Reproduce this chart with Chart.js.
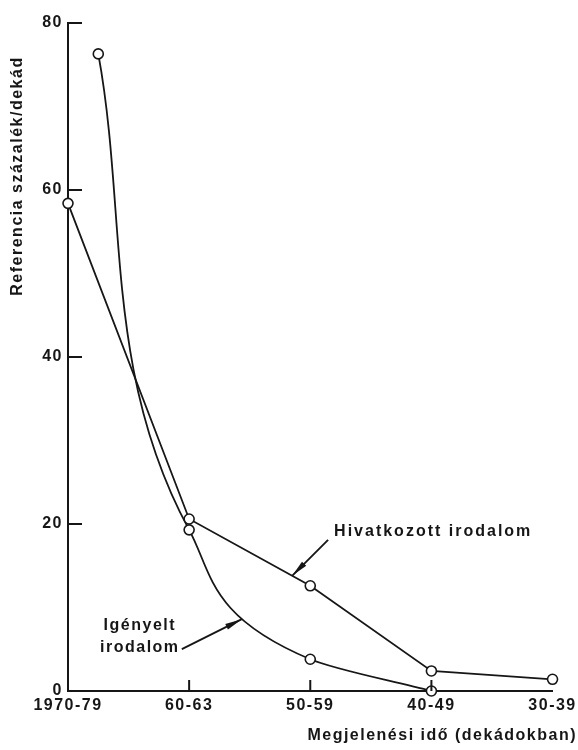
<!DOCTYPE html>
<html>
<head>
<meta charset="utf-8">
<script src="https://cdn.jsdelivr.net/npm/chart.js@4.4.1/dist/chart.umd.min.js"></script>
<style>
    body { margin: 0; background: #fff; }
    #wrap { width: 578px; height: 750px; }
</style>
</head>
<body>
<div id="wrap"><canvas id="myChart"></canvas></div>
<script>
// decades on the x axis (newest first, like the book)
const decades = ['1970-79', '60-63', '50-59', '40-49', '30-39'];
const y_ticks = [0, 20, 40, 60, 80];

// Hivatkozott irodalom
const hiv_x = [0, 1, 2, 3, 4];
const hiv_y = [58.4, 20.6, 12.6, 2.4, 1.4];

// Igényelt irodalom (first point sits inside the 1970s decade)
const ign_x = [0.25, 1, 2, 3];
const ign_y = [76.3, 19.3, 3.8, 0];

const ink = '#161616';
const family = '"Liberation Sans", Arial, sans-serif';

function toPoints(xs, ys) {
    let pts = [];
    for (let i = 0; i < xs.length; i = i + 1) {
        pts.push({ x: xs[i], y: ys[i] });
    }
    return pts;
}

function arrow(ctx, fromX, fromY, toX, toY) {
    ctx.beginPath();
    ctx.moveTo(fromX, fromY);
    ctx.lineTo(toX, toY);
    ctx.stroke();
    const ang = Math.atan2(toY - fromY, toX - fromX);
    const len = 17, w = 3;
    const bx = toX - len * Math.cos(ang), by = toY - len * Math.sin(ang);
    ctx.beginPath();
    ctx.moveTo(toX, toY);
    ctx.lineTo(bx + w * Math.sin(ang), by - w * Math.cos(ang));
    ctx.lineTo(bx - w * Math.sin(ang), by + w * Math.cos(ang));
    ctx.closePath();
    ctx.fill();
}

function bezierAt(p1, p2, t) {
    const u = 1 - t;
    return {
        x: u * u * u * p1.x + 3 * u * u * t * p1.cp2x + 3 * u * t * t * p2.cp1x + t * t * t * p2.x,
        y: u * u * u * p1.y + 3 * u * u * t * p1.cp2y + 3 * u * t * t * p2.cp1y + t * t * t * p2.y
    };
}

const extras = {
    id: 'extras',
    beforeDraw(chart) {
        chart.ctx.letterSpacing = '1.5px';
    },
    afterDraw(chart) {
        const ctx = chart.ctx;
        const xs = chart.scales.x, ys = chart.scales.y;
        const area = chart.chartArea;
        ctx.save();
        ctx.letterSpacing = '1.5px';
        ctx.strokeStyle = ink;
        ctx.fillStyle = ink;
        ctx.lineWidth = 2;

        // ticks point inwards
        ctx.beginPath();
        for (const v of y_ticks) {
            if (v === 0) continue;
            const py = ys.getPixelForValue(v);
            ctx.moveTo(area.left, py);
            ctx.lineTo(area.left + 14, py);
        }
        for (let i = 1; i < decades.length - 1; i = i + 1) {
            const px = xs.getPixelForValue(i);
            ctx.moveTo(px, area.bottom);
            ctx.lineTo(px, area.bottom - 11);
        }
        ctx.stroke();

        ctx.font = 'bold 16px ' + family;
        ctx.textBaseline = 'middle';

        // Hivatkozott label + arrow
        const f = 0.85;
        const tip1 = {
            x: xs.getPixelForValue(hiv_x[1] + f),
            y: ys.getPixelForValue(hiv_y[1] + (hiv_y[2] - hiv_y[1]) * f)
        };
        ctx.lineWidth = 1.8;
        arrow(ctx, tip1.x + 36, tip1.y - 36, tip1.x, tip1.y);
        ctx.textAlign = 'left';
        ctx.letterSpacing = '2px';
        ctx.fillText('Hivatkozott irodalom', tip1.x + 42, tip1.y - 44);
        ctx.letterSpacing = '1.5px';

        // Igényelt label + arrow, tip on the drawn curve
        const meta = chart.getDatasetMeta(1);
        const tip2 = bezierAt(meta.data[1], meta.data[2], 0.69);
        const tx = tip2.x - 60, ty = tip2.y + 30;
        arrow(ctx, tx, ty, tip2.x, tip2.y);
        ctx.textAlign = 'center';
        ctx.fillText('Igényelt', tx - 42, ty - 24);
        ctx.fillText('irodalom', tx - 42, ty - 2);

        // axis titles
        ctx.textAlign = 'right';
        ctx.fillText('Megjelenési idő (dekádokban)', chart.width - 1, 736);

        ctx.translate(18, 176);
        ctx.rotate(-Math.PI / 2);
        ctx.textAlign = 'center';
        ctx.fillText('Referencia százalék/dekád', 0, 0);
        ctx.restore();
    }
};

const tick_font = { family: family, size: 16, weight: 'bold' };

const ctx = document.getElementById('myChart').getContext('2d');
const myChart = new Chart(ctx, {
    type: 'line',
    data: {
        datasets: [{
            label: 'Hivatkozott irodalom',
            data: toPoints(hiv_x, hiv_y),
            borderColor: ink,
            borderWidth: 1.8,
            tension: 0,
            pointRadius: 5,
            pointBorderWidth: 1.6,
            pointBorderColor: ink,
            pointBackgroundColor: '#fff',
            clip: false
        }, {
            label: 'Igényelt irodalom',
            data: toPoints(ign_x, ign_y),
            // curve is smoothed along the value (y) direction
            indexAxis: 'y',
            cubicInterpolationMode: 'monotone',
            borderColor: ink,
            borderWidth: 1.8,
            pointRadius: 5,
            pointBorderWidth: 1.6,
            pointBorderColor: ink,
            pointBackgroundColor: '#fff',
            clip: false
        }]
    },
    options: {
        responsive: true,
        maintainAspectRatio: false,
        animation: false,
        layout: { padding: { left: 0, right: 24, top: 23, bottom: 0 } },
        plugins: {
            legend: { display: false },
            tooltip: { enabled: false }
        },
        scales: {
            x: {
                type: 'linear',
                min: 0,
                max: 4,
                afterFit(scale) { scale.height = 59; },
                grid: { display: false, drawTicks: false },
                border: { display: true, color: ink, width: 2 },
                ticks: {
                    stepSize: 1,
                    autoSkip: false,
                    maxRotation: 0,
                    padding: 5,
                    color: ink,
                    font: tick_font,
                    callback: (v) => decades[v] ?? ''
                }
            },
            y: {
                type: 'linear',
                min: 0,
                max: 80,
                afterFit(scale) { scale.width = 68; },
                grid: { display: false, drawTicks: false },
                border: { display: true, color: ink, width: 2 },
                ticks: {
                    stepSize: 20,
                    padding: 5,
                    color: ink,
                    font: tick_font
                }
            }
        }
    },
    plugins: [extras]
});
</script>
</body>
</html>
